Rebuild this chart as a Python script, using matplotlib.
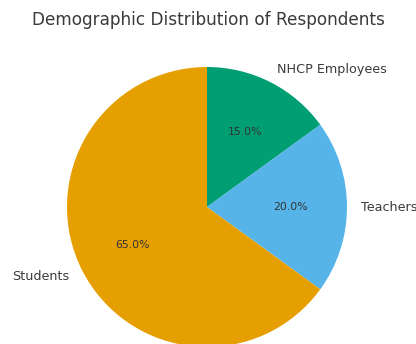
import matplotlib
matplotlib.use("Agg")
import matplotlib.pyplot as plt

# Respondent groups and their share of the sample (%)
GROUPS = ["NHCP Employees", "Teachers", "Students"]
SHARES = [15, 20, 65]
COLORS = ["#009E73", "#56B4E9", "#E69F00"]

W, H = 416, 344
CX, CY, R = 207, 207, 140  # pie centre / radius in pixels (from top-left)

fig = plt.figure(figsize=(W / 100, H / 100), dpi=100)
ax = fig.add_axes([0, 0, 1, 1])

wedges, texts, autotexts = ax.pie(
    SHARES,
    labels=GROUPS,
    colors=COLORS,
    autopct="%1.1f%%",
    startangle=90,
    counterclock=False,
    textprops={"fontsize": 9.2, "color": "#3a3a3a"},
)
for t in autotexts:
    t.set_fontsize(7.8)
    t.set_color("#333333")

ax.set_xlim(-CX / R, (W - CX) / R)
ax.set_ylim(-(H - CY) / R, CY / R)
ax.axis("off")

fig.text(0.5, 1 - 20 / H, "Demographic Distribution of Respondents",
         ha="center", va="center", fontsize=12.2, color="#3a3a3a")

fig.savefig("out.png", dpi=100)
plt.close(fig)
